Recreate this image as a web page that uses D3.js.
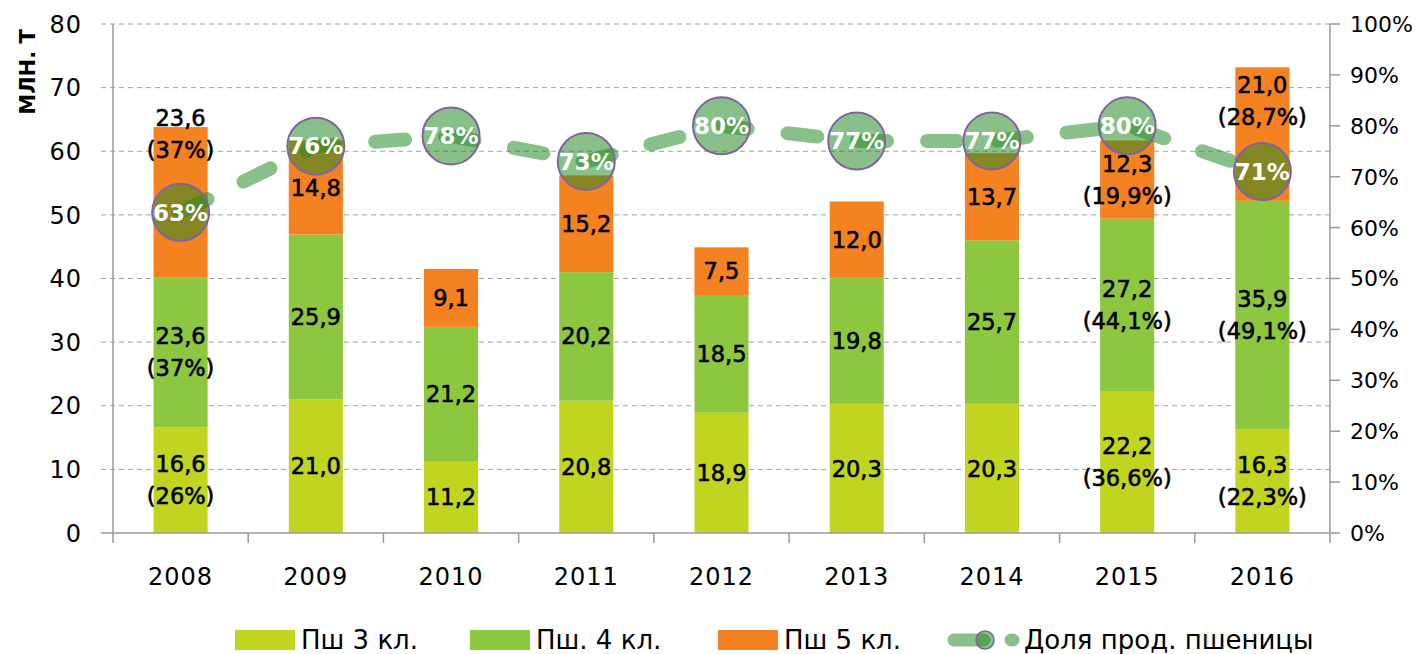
<!DOCTYPE html>
<html>
<head>
<meta charset="utf-8">
<script src="https://cdn.jsdelivr.net/npm/d3@7"></script>
<style>
  body { margin: 0; background: #fff; }
  text { font-family: "DejaVu Sans", Verdana, sans-serif; }
</style>
</head>
<body>
<div id="chart"></div>
<script>
// data
const years = ["2008", "2009", "2010", "2011", "2012", "2013", "2014", "2015", "2016"];
const psh3 = [16.6, 21.0, 11.2, 20.8, 18.9, 20.3, 20.3, 22.2, 16.3];
const psh4 = [23.6, 25.9, 21.2, 20.2, 18.5, 19.8, 25.7, 27.2, 35.9];
const psh5 = [23.6, 14.8, 9.1, 15.2, 7.5, 12.0, 13.7, 12.3, 21.0];
const pct3 = ["26%", null, null, null, null, null, null, "36,6%", "22,3%"];
const pct4 = ["37%", null, null, null, null, null, null, "44,1%", "49,1%"];
const pct5 = ["37%", null, null, null, null, null, null, "19,9%", "28,7%"];
const share = [0.63, 0.76, 0.78, 0.73, 0.80, 0.77, 0.77, 0.80, 0.71];
const seriesNames = ["Пш 3 кл.", "Пш. 4 кл.", "Пш 5 кл.", "Доля прод. пшеницы"];
const leftTicks = [0, 10, 20, 30, 40, 50, 60, 70, 80];
const rightTicks = [0, 0.1, 0.2, 0.3, 0.4, 0.5, 0.6, 0.7, 0.8, 0.9, 1.0];

const width = 1425, height = 654;
const margin = { top: 24, right: 95, bottom: 121, left: 113 };
const colors = ["#c1d520", "#8dc63f", "#f58220"];
const lineColor = "rgb(40,140,40)";

const svg = d3.select("#chart").append("svg")
   .attr("width", width)
   .attr("height", height);

const x = d3.scaleBand()
   .domain(years)
   .range([margin.left, width - margin.right])
   .paddingInner(0.6)
   .paddingOuter(0.3);

const y = d3.scaleLinear().domain([0, 80]).range([height - margin.bottom, margin.top]);
const y2 = d3.scaleLinear().domain([0, 1]).range([height - margin.bottom, margin.top]);

// gridlines (dashed, extend left as tick marks)
svg.append("g")
   .selectAll("line")
   .data(leftTicks.slice(1))
   .enter()
   .append("line")
   .attr("x1", margin.left - 12)
   .attr("x2", width - margin.right)
   .attr("y1", (d) => y(d))
   .attr("y2", (d) => y(d))
   .attr("stroke", "#a0a0a0")
   .attr("stroke-width", 1)
   .attr("stroke-dasharray", "5,4");

// stacked bars
const stack = [psh3, psh4, psh5];
const pcts = [pct3, pct4, pct5];
const segs = [];
years.forEach((yr, i) => {
   let base = 0;
   stack.forEach((s, k) => {
      segs.push({ year: yr, k: k, y0: base, y1: base + s[i], v: s[i], pct: pcts[k][i] });
      base += s[i];
   });
});

svg.append("g")
   .selectAll("rect")
   .data(segs)
   .enter()
   .append("rect")
   .attr("x", (d) => x(d.year))
   .attr("width", x.bandwidth())
   .attr("y", (d) => y(d.y1))
   .attr("height", (d) => y(d.y0) - y(d.y1))
   .attr("fill", (d) => colors[d.k]);

// axes
const axisColor = "#9a9a9a";
const bottom = height - margin.bottom;
svg.append("line")
   .attr("x1", margin.left).attr("x2", margin.left)
   .attr("y1", margin.top).attr("y2", bottom)
   .attr("stroke", axisColor).attr("stroke-width", 1.5);
svg.append("line")
   .attr("x1", margin.left - 12).attr("x2", width - margin.right)
   .attr("y1", bottom).attr("y2", bottom)
   .attr("stroke", axisColor).attr("stroke-width", 1.5);
svg.append("line")
   .attr("x1", width - margin.right).attr("x2", width - margin.right)
   .attr("y1", margin.top).attr("y2", bottom)
   .attr("stroke", axisColor).attr("stroke-width", 1.5);

// category tick marks between bars
const step = x.step();
const catTicks = d3.range(years.length + 1).map((i) => margin.left + i * step);
svg.append("g")
   .selectAll("line")
   .data(catTicks)
   .enter()
   .append("line")
   .attr("x1", (d) => d).attr("x2", (d) => d)
   .attr("y1", bottom).attr("y2", bottom + 10)
   .attr("stroke", axisColor).attr("stroke-width", 1.5);

// right axis ticks
svg.append("g")
   .selectAll("line")
   .data(rightTicks)
   .enter()
   .append("line")
   .attr("x1", width - margin.right).attr("x2", width - margin.right + 10)
   .attr("y1", (d) => y2(d)).attr("y2", (d) => y2(d))
   .attr("stroke", axisColor).attr("stroke-width", 1.5);

// tick labels
svg.append("g")
   .selectAll("text")
   .data(leftTicks)
   .enter()
   .append("text")
   .attr("x", 82)
   .attr("y", (d) => y(d))
   .attr("dy", "0.36em")
   .attr("text-anchor", "end")
   .style("font-size", "24px")
   .style("letter-spacing", "1px")
   .text((d) => d);

svg.append("g")
   .selectAll("text")
   .data(rightTicks)
   .enter()
   .append("text")
   .attr("x", width - margin.right + 20)
   .attr("y", (d) => y2(d))
   .attr("dy", "0.36em")
   .style("font-size", "22px")
   .text((d) => Math.round(d * 100) + "%");

svg.append("g")
   .selectAll("text")
   .data(years)
   .enter()
   .append("text")
   .attr("x", (d) => x(d) + x.bandwidth() / 2)
   .attr("y", bottom + 43)
   .attr("dy", "0.36em")
   .attr("text-anchor", "middle")
   .style("font-size", "24px")
   .style("letter-spacing", "1px")
   .text((d) => d);

svg.append("text")
   .attr("transform", "translate(35,72) rotate(-90)")
   .attr("text-anchor", "middle")
   .style("font-size", "21px")
   .style("font-weight", "bold")
   .text("МЛН. Т");

// segment labels
const fmt = (v) => v.toFixed(1).replace(".", ",");
const topShift = { "2008": -68, "2016": -33 };
const lineGap = 32;
const labels = svg.append("g");
segs.forEach((d) => {
   let cy = (y(d.y0) + y(d.y1)) / 2;
   if (d.k === 2 && topShift[d.year]) cy += topShift[d.year];
   const lines = d.pct ? [fmt(d.v), "(" + d.pct + ")"] : [fmt(d.v)];
   const t = labels.append("text")
      .attr("text-anchor", "middle")
      .style("font-size", "22.5px")
      .attr("fill", "#000")
      .attr("stroke", "#000")
      .attr("stroke-width", 0.6);
   lines.forEach((ln, j) => {
      t.append("tspan")
         .attr("x", x(d.year) + x.bandwidth() / 2)
         .attr("y", cy + (j - (lines.length - 1) / 2) * lineGap)
         .attr("dy", "0.36em")
         .text(ln);
   });
});

// share line (secondary axis)
const line = d3.line()
   .x((d, i) => x(years[i]) + x.bandwidth() / 2)
   .y((d) => y2(d));

svg.append("path")
   .datum(share)
   .attr("d", line)
   .attr("fill", "none")
   .attr("stroke", lineColor)
   .attr("stroke-opacity", 0.55)
   .attr("stroke-width", 14)
   .attr("stroke-linecap", "round")
   .attr("stroke-dasharray", "30,40");

const marks = svg.append("g")
   .selectAll("g")
   .data(share)
   .enter()
   .append("g")
   .attr("transform", (d, i) => "translate(" + (x(years[i]) + x.bandwidth() / 2) + "," + y2(d) + ")");

marks.append("circle")
   .attr("r", 28.5)
   .attr("fill", lineColor)
   .attr("fill-opacity", 0.55)
   .attr("stroke", "#8064a2")
   .attr("stroke-width", 2);

marks.append("text")
   .attr("text-anchor", "middle")
   .attr("dy", "0.36em")
   .attr("fill", "#fff")
   .style("font-size", "23px")
   .style("font-weight", "bold")
   .text((d) => Math.round(d * 100) + "%");

// legend
const legY = 639;
const legX = [235, 470, 718];
const legend = svg.append("g");
legX.forEach((lx, k) => {
   legend.append("rect")
      .attr("x", lx).attr("y", legY - 9)
      .attr("width", 60).attr("height", 20)
      .attr("fill", colors[k]);
   legend.append("text")
      .attr("x", lx + 66).attr("y", legY + 1)
      .attr("dy", "0.36em")
      .style("font-size", "26px")
      .text(seriesNames[k]);
});
legend.append("line")
   .attr("x1", 954).attr("x2", 984)
   .attr("y1", legY + 1).attr("y2", legY + 1)
   .attr("stroke", lineColor).attr("stroke-opacity", 0.55)
   .attr("stroke-width", 13).attr("stroke-linecap", "round");
legend.append("line")
   .attr("x1", 1011).attr("x2", 1013)
   .attr("y1", legY + 1).attr("y2", legY + 1)
   .attr("stroke", lineColor).attr("stroke-opacity", 0.55)
   .attr("stroke-width", 13).attr("stroke-linecap", "round");
legend.append("circle")
   .attr("cx", 985).attr("cy", legY + 1).attr("r", 9)
   .attr("fill", lineColor).attr("fill-opacity", 0.55)
   .attr("stroke", "#8064a2").attr("stroke-width", 1.5);
legend.append("text")
   .attr("x", 1024).attr("y", legY + 1)
   .attr("dy", "0.36em")
   .style("font-size", "26px")
   .text(seriesNames[3]);
</script>
</body>
</html>
